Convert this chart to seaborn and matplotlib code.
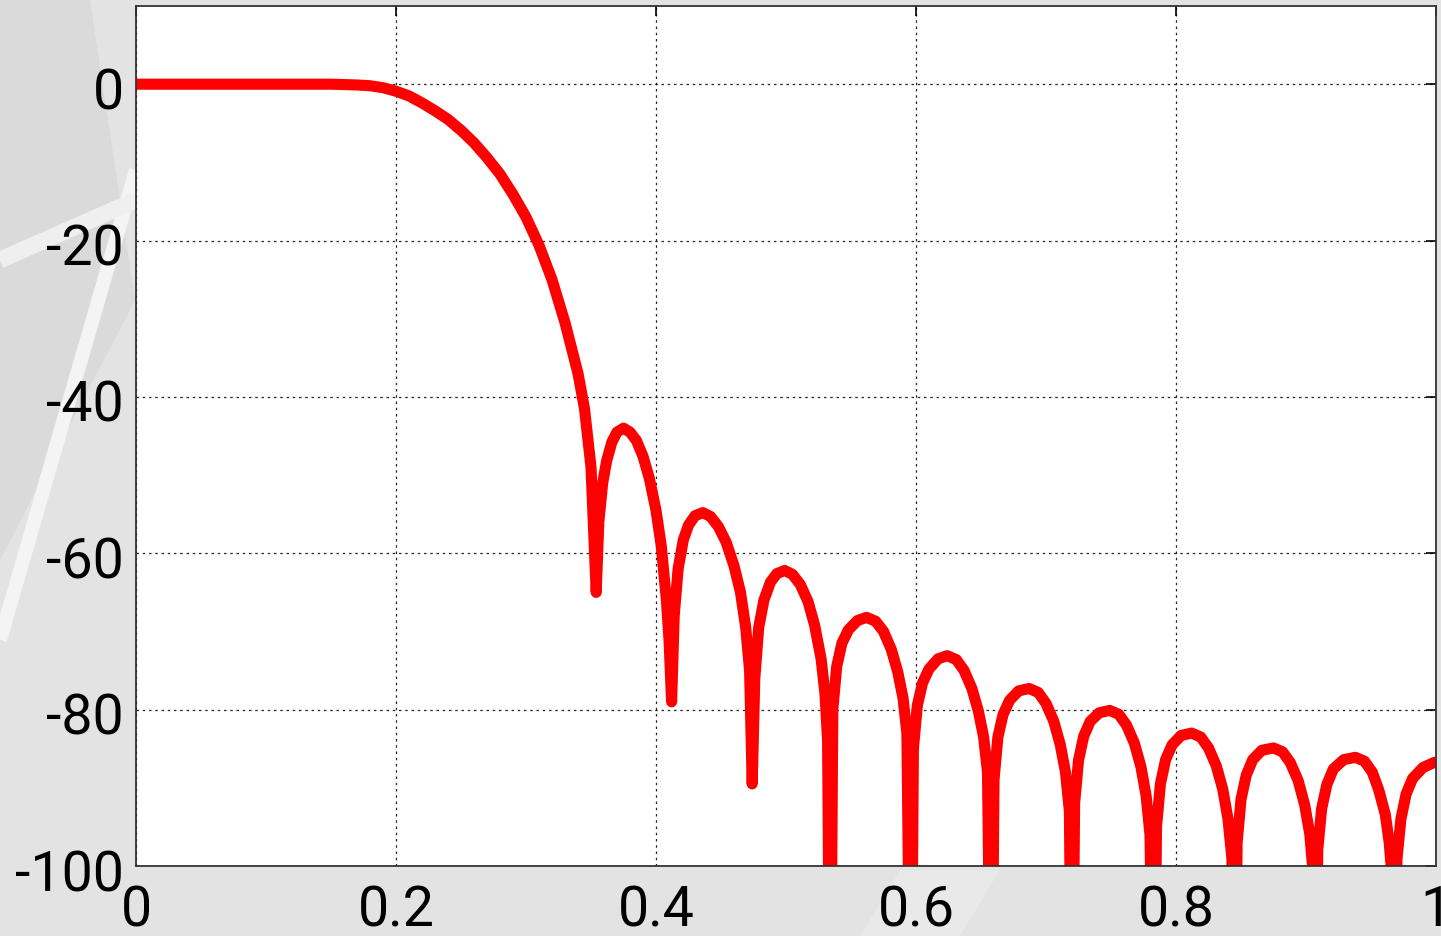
import numpy as np
import pandas as pd
import matplotlib
matplotlib.use("Agg")
import matplotlib.pyplot as plt
import matplotlib.transforms as mtransforms
import seaborn as sns
from matplotlib.patches import Polygon

# normalized frequency
freq = [0.0, 0.05, 0.10, 0.15, 0.16, 0.17, 0.18, 0.19, 0.20, 0.21, 0.22, 0.23, 0.24, 0.25,
        0.26, 0.27, 0.28, 0.29, 0.30, 0.31, 0.32, 0.33, 0.34, 0.345, 0.350, 0.354,
        0.356, 0.359, 0.362, 0.366, 0.370, 0.375, 0.380, 0.385, 0.390, 0.395, 0.400, 0.404, 0.408, 0.410, 0.412,
        0.414, 0.417, 0.421, 0.425, 0.430, 0.436, 0.442, 0.448, 0.454, 0.460, 0.465, 0.469, 0.472, 0.474,
        0.476, 0.479, 0.483, 0.488, 0.493, 0.499, 0.505, 0.511, 0.517, 0.522, 0.527, 0.530, 0.532, 0.534,
        0.536, 0.539, 0.543, 0.548, 0.555, 0.562, 0.569, 0.575, 0.581, 0.586, 0.590, 0.593, 0.596,
        0.598, 0.601, 0.605, 0.610, 0.617, 0.624, 0.631, 0.637, 0.643, 0.648, 0.652, 0.655, 0.658,
        0.660, 0.663, 0.667, 0.672, 0.679, 0.687, 0.694, 0.700, 0.706, 0.711, 0.715, 0.718, 0.720,
        0.722, 0.725, 0.729, 0.734, 0.741, 0.749, 0.756, 0.762, 0.768, 0.773, 0.777, 0.780, 0.783,
        0.785, 0.788, 0.792, 0.797, 0.804, 0.812, 0.819, 0.825, 0.831, 0.836, 0.840, 0.843, 0.845,
        0.847, 0.850, 0.854, 0.859, 0.866, 0.875, 0.882, 0.888, 0.894, 0.899, 0.903, 0.905, 0.907,
        0.909, 0.912, 0.916, 0.921, 0.929, 0.938, 0.945, 0.951, 0.956, 0.961, 0.964, 0.966, 0.968,
        0.970, 0.973, 0.977, 0.982, 0.990, 0.998, 1.0]
# magnitude (dB)
mag_db = [0.0, 0.0, 0.0, 0.0, -0.05, -0.1, -0.2, -0.45, -0.9, -1.5, -2.4, -3.4, -4.5, -5.9,
          -7.5, -9.4, -11.5, -14.1, -17.0, -20.6, -25.0, -30.5, -37.0, -41.5, -49.0, -65.0,
          -56.0, -51.0, -48.2, -45.8, -44.5, -44.0, -44.5, -45.6, -47.6, -50.5, -54.5, -59.0, -66.0, -71.0, -79.0,
          -68.0, -62.0, -58.3, -56.4, -55.2, -54.8, -55.3, -56.6, -58.6, -61.6, -65.0, -69.5, -75.0, -89.5,
          -76.0, -69.5, -66.0, -63.7, -62.6, -62.2, -62.7, -64.0, -66.2, -69.2, -73.5, -78.0, -84.0, -130.0,
          -80.0, -74.5, -71.5, -69.8, -68.6, -68.2, -68.7, -70.0, -72.3, -75.2, -78.5, -83.0, -130.0,
          -85.0, -79.5, -76.6, -74.8, -73.5, -73.1, -73.6, -75.0, -77.3, -80.2, -83.5, -88.0, -130.0,
          -89.0, -83.5, -80.6, -78.8, -77.6, -77.3, -77.8, -79.2, -81.5, -84.5, -88.0, -93.0, -130.0,
          -92.0, -86.5, -83.4, -81.5, -80.4, -80.1, -80.6, -82.0, -84.3, -87.3, -91.0, -96.0, -130.0,
          -95.0, -89.5, -86.4, -84.5, -83.3, -83.0, -83.5, -84.9, -87.2, -90.2, -94.0, -99.0, -130.0,
          -97.0, -91.5, -88.4, -86.4, -85.2, -84.9, -85.4, -86.8, -89.1, -92.2, -96.0, -100.0, -130.0,
          -98.0, -92.7, -89.6, -87.6, -86.4, -86.1, -86.6, -88.0, -90.3, -93.4, -97.0, -101.0, -130.0,
          -99.0, -94.0, -90.8, -88.8, -87.4, -86.8, -86.7]

x_ticks = [0, 0.2, 0.4, 0.6, 0.8, 1]
x_tick_labels = ["0", "0.2", "0.4", "0.6", "0.8", "1"]
y_ticks = [-100, -80, -60, -40, -20, 0]
y_tick_labels = ["-100", "-80", "-60", "-40", "-20", "0"]

sns.set_style("white")
plt.rcParams['font.family'] = ['Liberation Sans Narrow', 'Roboto', 'DejaVu Sans']

df = pd.DataFrame({"freq": freq, "mag_db": mag_db})

fig = plt.figure(figsize=(14.41, 9.36), dpi=100)
fig.patch.set_facecolor("#e3e3e3")

# faint background decoration
bg = fig.add_axes([0, 0, 1, 1], zorder=-10)
bg.set_xlim(0, 1441); bg.set_ylim(936, 0); bg.axis("off")
bg.add_patch(Polygon([[0, 0], [90, 0], [135, 300], [0, 560]], closed=True, color="#dadada", lw=0))
bg.add_patch(Polygon([[860, 936], [900, 870], [1000, 870], [960, 936]], closed=True, color="#e9e9e9", lw=0))
bg.plot([0, 136], [640, 170], color="#f4f4f4", lw=10, solid_capstyle="butt")
bg.plot([0, 136], [260, 200], color="#efefef", lw=12, solid_capstyle="butt")

ax = fig.add_axes([136/1441, 1 - 866/936, 1300/1441, 860/936])
ax.set_facecolor("white")

sns.lineplot(data=df, x="freq", y="mag_db", ax=ax, color="#ff0000", linewidth=8,
             sort=False, estimator=None, solid_joinstyle="round", solid_capstyle="round")

ax.set_xlim(0, 1)
ax.set_ylim(-100, 10)
ax.set_xticks(x_ticks)
ax.set_xticklabels(x_tick_labels)
ax.set_yticks(y_ticks)
ax.set_yticklabels(y_tick_labels)
ax.set_xlabel("")
ax.set_ylabel("")

ax.grid(True, color="black", linestyle=(0, (2, 3)), linewidth=0.9, alpha=0.85)
ax.tick_params(axis="both", direction="in", length=7, width=1.2, colors="black",
               top=True, right=True, labelsize=40)
ax.tick_params(axis="x", pad=13)
ax.tick_params(axis="y", pad=9)
shift = mtransforms.ScaledTranslation(0, -4/100, fig.dpi_scale_trans)
for lab in ax.get_yticklabels():
    lab.set_transform(lab.get_transform() + shift)
for s in ax.spines.values():
    s.set_visible(True)
    s.set_color("#333333")
    s.set_linewidth(1.3)

fig.savefig("out.png", dpi=100, facecolor=fig.get_facecolor())
